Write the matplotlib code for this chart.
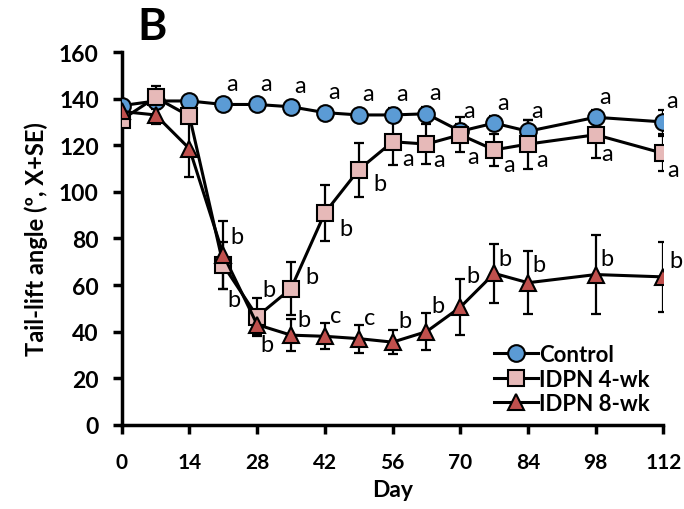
import matplotlib
matplotlib.use("Agg")
import matplotlib.pyplot as plt

plt.rcParams['font.family'] = ['Lato', 'DejaVu Sans']

days = [0, 7, 14, 21, 28, 35, 42, 49, 56, 63, 70, 77, 84, 98, 112]

ctrl = [137, 139, 139, 137.5, 137.5, 136.5, 134, 133, 133, 133.5, 126, 129.5, 126, 132, 130]
ctrl_se = [2, 3, 2, 2, 2, 2, 2, 2, 3, 3, 3, 3, 5, 3, 5]

wk4 = [131, 140.5, 132.5, 68.5, 46.5, 58.5, 91, 109.5, 121.5, 120.5, 124.5, 118, 120.5, 124.5, 116.5]
wk4_se = [3, 5, 3, 10, 8, 11.5, 12, 11.5, 10, 8.5, 7.5, 7, 10.5, 10, 7.5]

wk8 = [134.5, 133, 118.5, 73, 43, 38.5, 38, 37, 35.5, 40, 50.5, 65, 61, 64.5, 63.5]
wk8_se = [3, 4, 12, 14.5, 5, 7, 5.5, 6, 5, 8, 12, 12.5, 13.5, 17, 15]

ctrl_letters = ['', '', '', 'a', 'a', 'a', 'a', 'a', 'a', 'a', 'a', 'a', 'a', 'a', 'a']
wk4_letters = ['', '', '', 'b', 'b', 'b', 'b', 'b', 'a', 'a', 'a', 'a', 'a', 'a', 'a']
wk8_letters = ['', '', '', 'b', 'b', 'b', 'c', 'c', 'b', 'b', 'b', 'b', 'b', 'b', 'b']

# letter offsets in pixels (dx, dy up)
ctrl_off = [(9, 21)] * 15
wk4_off = [(0, 0)] * 3 + [(11, -34), (12, 27), (21, 12), (21, -16), (21, -14),
                          (15, -17), (13, -15), (13, -22), (15, -15), (14, -15),
                          (11, -19), (10, -16)]
wk8_off = [(0, 0)] * 3 + [(14, 18), (10, -20), (13, 16), (11, 21), (11, 21),
                          (12, 22), (11, 26), (13, 32), (11, 15), (11, 18),
                          (11, 16), (12, 16)]

fig = plt.figure(figsize=(6.84, 5.10), dpi=100)
ax = fig.add_axes([0.178, 0.165, 0.792, 0.731])

series = [
    (ctrl, ctrl_se, 'o', '#5B9BD5', 'Control', ctrl_letters, ctrl_off),
    (wk4, wk4_se, 's', '#E6B9B8', 'IDPN 4-wk', wk4_letters, wk4_off),
    (wk8, wk8_se, '^', '#C0504D', 'IDPN 8-wk', wk8_letters, wk8_off),
]

for vals, se, mk, col, lab, letters, offs in series:
    ax.errorbar(days, vals, yerr=se, fmt='none', ecolor='black',
                elinewidth=1.6, capsize=3.5, capthick=1.6, zorder=2)
    ax.plot(days, vals, color='black', lw=2.2, marker=mk, ms=12,
            mfc=col, mec='black', mew=1.5, label=lab, zorder=3)
    for d, v, t, (dx, dy) in zip(days, vals, letters, offs):
        if t:
            ax.annotate(t, (d, v), xytext=(dx * 0.72, dy * 0.72),
                        textcoords='offset points', ha='center', va='center',
                        fontsize=17)

ax.set_xlim(0, 112)
ax.set_ylim(0, 160)
ax.set_xticks(range(0, 113, 14))
ax.set_yticks(range(0, 161, 20))
for s in ['top', 'right']:
    ax.spines[s].set_visible(False)
for s in ['left', 'bottom']:
    ax.spines[s].set_linewidth(2.5)
ax.tick_params(width=2.5, length=6.5, labelsize=16.5)
ax.tick_params(axis='x', pad=13, labelsize=15)
ax.tick_params(axis='y', pad=10)
for t in ax.get_xticklabels() + ax.get_yticklabels():
    t.set_fontweight('bold')

ax.set_xlabel('Day', fontsize=16.5, fontweight='bold', labelpad=5)
ax.set_ylabel('Tail-lift angle (º, X+SE)', fontsize=17, fontweight='bold', labelpad=8)
fig.text(0.222, 0.947, 'B', fontsize=32, fontweight='bold', ha='center', va='center')

leg = ax.legend(loc='upper left', bbox_to_anchor=(0.67, 0.24), frameon=False,
                handlelength=2.0, handletextpad=0.05, labelspacing=0.15,
                borderaxespad=0, prop={'weight': 'bold', 'size': 16})

fig.savefig('out.png', dpi=100)
